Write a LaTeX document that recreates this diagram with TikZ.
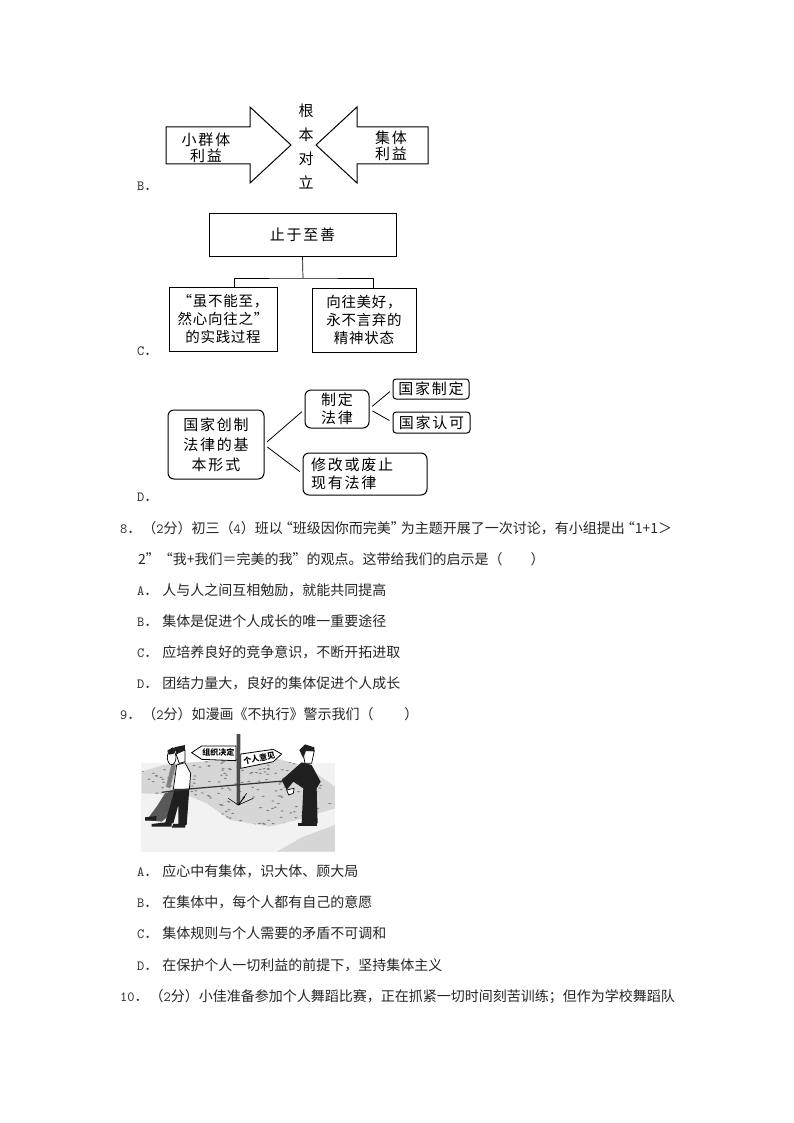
\documentclass[tikz,border=0pt]{standalone}
\usepackage{fontspec}
\setmainfont{Noto Sans CJK SC}
\newfontfamily\handfont[LetterSpace=12]{Noto Sans CJK SC}
\newfontfamily\tightfont[LetterSpace=5]{Noto Sans CJK SC}
\usetikzlibrary{calc}
\usetikzlibrary{positioning}

\newcommand{\qopen}{\makebox[10pt][r]{“}}
\newcommand{\qshut}{\makebox[10pt][l]{”}}
\newcommand{\qnum}[1]{\texttt{#1}．\hspace{1pt}}
\newcommand{\qopt}[1]{\texttt{#1}．\hspace{4pt}}

\tikzset{
  qline/.style={anchor=base west, inner sep=0, font=\fontsize{14}{16}\selectfont, text=black!85},
  hand/.style={inner sep=0, outer sep=0, align=center, font=\handfont\fontsize{15}{18}\selectfont},
  tight/.style={font=\tightfont\fontsize{14.5}{18}\selectfont},
  plainbox/.style={hand, draw, line width=1pt},
  roundbox/.style={plainbox, rounded corners=6pt},
  link/.style={line width=0.8pt, shorten >=4pt, shorten <=4pt},
  bigarrow/.style={draw, line width=1pt, fill=white},
  ground/.style={fill=black!16},
  inked/.style={fill=black!88},
  skin/.style={draw, fill=white, line width=0.7pt},
}

\begin{document}
\begin{tikzpicture}[x=1pt, y=-1pt]
\useasboundingbox (0,0) rectangle (794,1123);
\fill[white] (0,0) rectangle (794,1123);

% option B
\path[bigarrow] (166,127) -- (250,127) -- (250,107) -- (291,145) -- (250,183) -- (250,164) -- (166,164) -- cycle;
\path[bigarrow] (428,127) -- (357,127) -- (357,107) -- (316,145) -- (357,183) -- (357,164) -- (428,164) -- cycle;
\node[hand] (small) at (206,148) {小群体\\[-2pt]利益};
\node[hand] (whole) at (391,146) {集体\\[-2pt]利益};
\node[hand, font=\handfont\fontsize{15}{24}\selectfont] (versus) at (306,146) {根\\本\\对\\立};

% option C
\node[plainbox, minimum width=187pt, minimum height=42pt] (good) at (302.5,235) {止于至善};
\node[plainbox, tight, minimum width=108pt, minimum height=64pt] (process) at (223,319) {“虽不能至，\\然心向往之”\\的实践过程};
\node[plainbox, tight, minimum width=104pt, minimum height=64pt] (state) at (364,320) {向往美好，\\永不言弃的\\精神状态};
\coordinate (fork) at (303,278);
\draw[line width=0.7pt] (good.south) -- (fork);
\draw[line width=0.7pt] (process.north -| 234,0) |- (fork) -| (state.north -| 373,0);

% option D
\node[roundbox, minimum width=96pt, minimum height=69pt] (law) at (216,444.5) {国家创制\\[2pt]法律的基\\[2pt]本形式};
\node[roundbox, minimum width=64pt, minimum height=38pt] (make) at (337,409) {制定\\法律};
\node[roundbox, minimum width=124pt, minimum height=42pt, text width=108pt, align=left] (change) at (365,474) {修改或废止\\现有法律};
\node[roundbox, rounded corners=3pt, minimum width=76pt, minimum height=20pt] (state1) at (431,389) {国家制定};
\node[roundbox, rounded corners=3pt, minimum width=77pt, minimum height=21pt] (state2) at (431.5,422.5) {国家认可};
\draw[link] (law.east) -- (make.west);
\draw[link] (law.east) -- (change.west);
\draw[link] (make.east) -- (state1.west);
\draw[link] (make.east) -- (state2.west);

% comic
\begin{scope}[shift={(130,730)}, scale=0.3333]
\path[fill=black!5] (33,100) rectangle (615,365);
\def\fieldtop{(35,125) -- (100,105) -- (320,85) -- (450,88) -- (530,110) -- (615,170) -- (615,235) -- (500,270) -- (420,290) -- (300,270) -- (230,220) -- (170,195) -- (35,190) -- cycle}
\path[ground] \fieldtop;
\path[ground] (615,285) -- (520,320) -- (440,365) -- (615,365) -- cycle;
\begin{scope}
\clip \fieldtop;
\pgfmathsetseed{7}
\foreach \k in {1,...,240} {
   \pgfmathsetmacro\sx{35+rnd*580}
   \pgfmathsetmacro\sy{85+rnd*205}
   \fill[black!50] (\sx,\sy) ellipse (5 and 2);
}
\end{scope}
% post and grass
\path[fill=black!70] (320,12) -- (331,12) -- (330,225) -- (320,225) -- cycle;
\draw[line width=0.6pt] (325,225) -- (295,205) (325,225) -- (350,190) (325,225) -- (370,205) (325,225) -- (345,200);
% signs
\path[draw, fill=white, line width=0.8pt] (185,68) -- (215,48) -- (318,48) -- (318,92) -- (215,88) -- cycle;
\path[draw, fill=white, line width=0.8pt] (332,72) -- (430,58) -- (455,72) -- (430,95) -- (332,115) -- cycle;
\node[inner sep=0, font=\bfseries\fontsize{8}{9}\selectfont] (signa) at (265,68) {组织决定};
\node[inner sep=0, rotate=10, font=\bfseries\fontsize{8}{9}\selectfont] (signb) at (388,85) {个人意见};
% rear man
\path[inked, fill=black!65] (105,190) -- (135,180) -- (125,250) -- (95,275) -- (50,270) -- (80,230) -- cycle;
\path[inked] (45,262) -- (80,258) -- (78,272) -- (45,272) -- cycle;
\path[fill=black!50] (125,100) -- (138,105) -- (120,175) -- (108,170) -- cycle;
\path[skin] (125,82) ellipse (13 and 22);
\path[inked] (112,62) -- (128,52) -- (140,58) -- (130,72) -- (116,74) -- cycle;
% front man
\path[inked] (135,175) -- (178,175) -- (170,285) -- (145,285) -- (145,225) -- (130,280) -- (105,280) -- cycle;
\path[inked] (65,282) -- (125,275) -- (125,290) -- (65,290) -- cycle;
\path[inked] (130,282) -- (168,280) -- (165,293) -- (125,293) -- cycle;
\path[skin] (140,105) -- (165,98) -- (182,130) -- (178,178) -- (130,178) -- cycle;
\path[skin] (138,72) -- (165,60) -- (165,95) -- (148,100) -- cycle;
\path[inked] (133,52) -- (165,45) -- (165,60) -- (145,68) -- (140,72) -- cycle;
% rope
\draw[line width=1.2pt, black!80] (95,187) -- (175,177) -- (460,153);
% right man
\path[inked] (515,97) -- (545,105) -- (572,155) -- (560,175) -- (563,280) -- (515,280) -- (520,175) -- (490,155) -- (470,180) -- (455,150) -- cycle;
\path[skin] (470,180) -- (492,175) -- (490,190) -- (476,195) -- cycle;
\path[skin] (518,62) -- (553,62) -- (545,100) -- (525,100) -- cycle;
\path[inked] (508,60) -- (525,43) -- (553,52) -- (553,64) -- (528,62) -- (520,85) -- cycle;
\path[inked] (505,278) -- (560,278) -- (560,288) -- (505,288) -- cycle;
\end{scope}

% lines of text
\node[qline] (labelb) at (137,191) {\texttt{B}．};
\node[qline] (labelc) at (137,355) {\texttt{C}．};
\node[qline] (labeld) at (137,501) {\texttt{D}．};
\foreach \k/\x/\y/\txt in {
   q8/120/533/{\qnum{8}（\texttt{2}分）初三（\texttt{4}）班以\qopen 班级因你而完美\qshut 为主题开展了一次讨论，有小组提出\qopen 1+1＞},
   q8b/138/564/{2\qshut\hspace{7pt}\qopen 我+我们＝完美的我\qshut\hspace{4pt}的观点。这带给我们的启示是（\hspace{2em}）},
   a8/137/595/{\qopt{A}人与人之间互相勉励，就能共同提高},
   b8/137/626/{\qopt{B}集体是促进个人成长的唯一重要途径},
   c8/137/657/{\qopt{C}应培养良好的竞争意识，不断开拓进取},
   d8/137/688/{\qopt{D}团结力量大，良好的集体促进个人成长},
   q9/120/719/{\qnum{9}（\texttt{2}分）如漫画《不执行》警示我们（\hspace{2.2em}）},
   a9/137/876/{\qopt{A}应心中有集体，识大体、顾大局},
   b9/137/907/{\qopt{B}在集体中，每个人都有自己的意愿},
   c9/137/938/{\qopt{C}集体规则与个人需要的矛盾不可调和},
   d9/137/970/{\qopt{D}在保护个人一切利益的前提下，坚持集体主义},
   q10/120/1001/{\qnum{10}（\texttt{2}分）小佳准备参加个人舞蹈比赛，正在抓紧一切时间刻苦训练；但作为学校舞蹈队}} {
   \node[qline] (\k) at (\x,\y) {\txt};
}
\end{tikzpicture}
\end{document}
